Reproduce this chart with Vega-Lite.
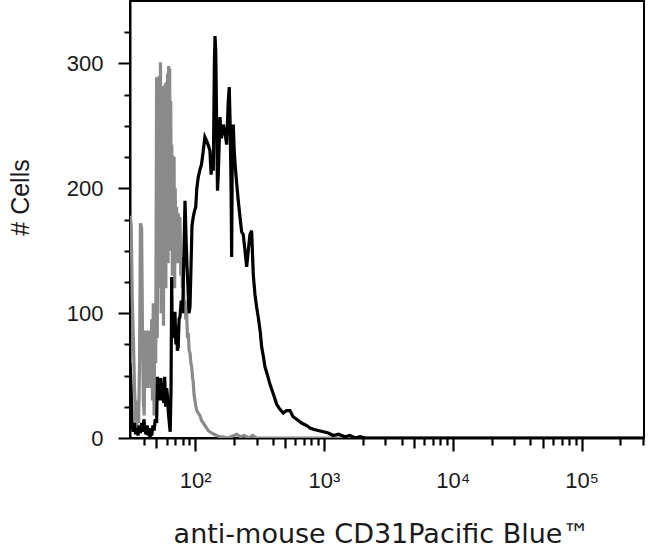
{
  "$schema": "https://vega.github.io/schema/vega-lite/v6.json",
  "autosize": "none",
  "width": 514,
  "height": 437,
  "padding": {"left": 130, "top": 1, "right": 6, "bottom": 116},
  "background": "white",
  "view": {"stroke": "black", "strokeWidth": 2},
  "data": {
    "values": [
      {"sample": "isotype", "intensity": 31.3, "cells": 178},
      {"sample": "isotype", "intensity": 31.9, "cells": 170},
      {"sample": "isotype", "intensity": 32.5, "cells": 110},
      {"sample": "isotype", "intensity": 33.2, "cells": 76},
      {"sample": "isotype", "intensity": 33.8, "cells": 40},
      {"sample": "isotype", "intensity": 34.5, "cells": 15},
      {"sample": "isotype", "intensity": 35.2, "cells": 7},
      {"sample": "isotype", "intensity": 35.8, "cells": 30},
      {"sample": "isotype", "intensity": 36.4, "cells": 12},
      {"sample": "isotype", "intensity": 37.0, "cells": 60},
      {"sample": "isotype", "intensity": 37.6, "cells": 172},
      {"sample": "isotype", "intensity": 38.4, "cells": 168},
      {"sample": "isotype", "intensity": 39.0, "cells": 86},
      {"sample": "isotype", "intensity": 39.6, "cells": 30},
      {"sample": "isotype", "intensity": 40.2, "cells": 18},
      {"sample": "isotype", "intensity": 40.8, "cells": 86},
      {"sample": "isotype", "intensity": 41.4, "cells": 45},
      {"sample": "isotype", "intensity": 42.0, "cells": 80},
      {"sample": "isotype", "intensity": 42.6, "cells": 40},
      {"sample": "isotype", "intensity": 43.3, "cells": 86},
      {"sample": "isotype", "intensity": 44.0, "cells": 50},
      {"sample": "isotype", "intensity": 44.6, "cells": 85},
      {"sample": "isotype", "intensity": 45.3, "cells": 40},
      {"sample": "isotype", "intensity": 46.0, "cells": 95},
      {"sample": "isotype", "intensity": 46.6, "cells": 30},
      {"sample": "isotype", "intensity": 47.3, "cells": 108},
      {"sample": "isotype", "intensity": 48.0, "cells": 18},
      {"sample": "isotype", "intensity": 48.7, "cells": 100},
      {"sample": "isotype", "intensity": 49.4, "cells": 60},
      {"sample": "isotype", "intensity": 50.2, "cells": 289},
      {"sample": "isotype", "intensity": 50.8, "cells": 80},
      {"sample": "isotype", "intensity": 51.4, "cells": 285},
      {"sample": "isotype", "intensity": 52.0, "cells": 120},
      {"sample": "isotype", "intensity": 52.6, "cells": 290},
      {"sample": "isotype", "intensity": 53.3, "cells": 150},
      {"sample": "isotype", "intensity": 53.8, "cells": 301},
      {"sample": "isotype", "intensity": 54.4, "cells": 100},
      {"sample": "isotype", "intensity": 55.0, "cells": 280},
      {"sample": "isotype", "intensity": 55.6, "cells": 160},
      {"sample": "isotype", "intensity": 56.2, "cells": 282},
      {"sample": "isotype", "intensity": 56.8, "cells": 90},
      {"sample": "isotype", "intensity": 57.4, "cells": 280},
      {"sample": "isotype", "intensity": 58.0, "cells": 170},
      {"sample": "isotype", "intensity": 58.6, "cells": 284},
      {"sample": "isotype", "intensity": 59.2, "cells": 120},
      {"sample": "isotype", "intensity": 59.8, "cells": 285},
      {"sample": "isotype", "intensity": 60.4, "cells": 190},
      {"sample": "isotype", "intensity": 61.0, "cells": 292},
      {"sample": "isotype", "intensity": 61.6, "cells": 140},
      {"sample": "isotype", "intensity": 62.2, "cells": 298},
      {"sample": "isotype", "intensity": 62.8, "cells": 200},
      {"sample": "isotype", "intensity": 63.4, "cells": 296},
      {"sample": "isotype", "intensity": 64.0, "cells": 150},
      {"sample": "isotype", "intensity": 64.6, "cells": 270},
      {"sample": "isotype", "intensity": 65.2, "cells": 180},
      {"sample": "isotype", "intensity": 65.8, "cells": 235},
      {"sample": "isotype", "intensity": 66.5, "cells": 130},
      {"sample": "isotype", "intensity": 67.2, "cells": 226},
      {"sample": "isotype", "intensity": 67.9, "cells": 170},
      {"sample": "isotype", "intensity": 68.6, "cells": 225},
      {"sample": "isotype", "intensity": 69.3, "cells": 120},
      {"sample": "isotype", "intensity": 70.0, "cells": 200},
      {"sample": "isotype", "intensity": 70.8, "cells": 150},
      {"sample": "isotype", "intensity": 71.8, "cells": 185},
      {"sample": "isotype", "intensity": 72.8, "cells": 140},
      {"sample": "isotype", "intensity": 74.0, "cells": 180},
      {"sample": "isotype", "intensity": 75.0, "cells": 150},
      {"sample": "isotype", "intensity": 76.2, "cells": 177},
      {"sample": "isotype", "intensity": 77.3, "cells": 130},
      {"sample": "isotype", "intensity": 78.5, "cells": 145},
      {"sample": "isotype", "intensity": 79.7, "cells": 120},
      {"sample": "isotype", "intensity": 81.0, "cells": 125},
      {"sample": "isotype", "intensity": 82.2, "cells": 105},
      {"sample": "isotype", "intensity": 83.4, "cells": 110},
      {"sample": "isotype", "intensity": 84.6, "cells": 95},
      {"sample": "isotype", "intensity": 85.9, "cells": 100},
      {"sample": "isotype", "intensity": 87.2, "cells": 80},
      {"sample": "isotype", "intensity": 88.4, "cells": 84},
      {"sample": "isotype", "intensity": 89.8, "cells": 70},
      {"sample": "isotype", "intensity": 91.2, "cells": 68},
      {"sample": "isotype", "intensity": 92.6, "cells": 60},
      {"sample": "isotype", "intensity": 94.0, "cells": 57},
      {"sample": "isotype", "intensity": 95.5, "cells": 48},
      {"sample": "isotype", "intensity": 96.6, "cells": 45},
      {"sample": "isotype", "intensity": 98.0, "cells": 35},
      {"sample": "isotype", "intensity": 99.6, "cells": 30},
      {"sample": "isotype", "intensity": 101, "cells": 26},
      {"sample": "isotype", "intensity": 103, "cells": 22},
      {"sample": "isotype", "intensity": 105.7, "cells": 20},
      {"sample": "isotype", "intensity": 108.9, "cells": 18},
      {"sample": "isotype", "intensity": 112, "cells": 14},
      {"sample": "isotype", "intensity": 115.6, "cells": 12},
      {"sample": "isotype", "intensity": 119, "cells": 10},
      {"sample": "isotype", "intensity": 122.8, "cells": 8},
      {"sample": "isotype", "intensity": 126, "cells": 6},
      {"sample": "isotype", "intensity": 130, "cells": 5},
      {"sample": "isotype", "intensity": 135, "cells": 4},
      {"sample": "isotype", "intensity": 140, "cells": 3},
      {"sample": "isotype", "intensity": 147, "cells": 2},
      {"sample": "isotype", "intensity": 155, "cells": 1},
      {"sample": "isotype", "intensity": 165, "cells": 1},
      {"sample": "isotype", "intensity": 175, "cells": 0},
      {"sample": "isotype", "intensity": 190, "cells": 1},
      {"sample": "isotype", "intensity": 210, "cells": 3},
      {"sample": "isotype", "intensity": 225, "cells": 1},
      {"sample": "isotype", "intensity": 240, "cells": 2},
      {"sample": "isotype", "intensity": 260, "cells": 0},
      {"sample": "isotype", "intensity": 280, "cells": 2},
      {"sample": "isotype", "intensity": 300, "cells": 0},
      {"sample": "isotype", "intensity": 1000, "cells": 0},
      {"sample": "isotype", "intensity": 10000, "cells": 0},
      {"sample": "isotype", "intensity": 100000, "cells": 0},
      {"sample": "isotype", "intensity": 305000, "cells": 0},
      {"sample": "CD31", "intensity": 31.2, "cells": 60},
      {"sample": "CD31", "intensity": 31.8, "cells": 40},
      {"sample": "CD31", "intensity": 32.4, "cells": 10},
      {"sample": "CD31", "intensity": 33.1, "cells": 5},
      {"sample": "CD31", "intensity": 33.8, "cells": 12},
      {"sample": "CD31", "intensity": 34.5, "cells": 3},
      {"sample": "CD31", "intensity": 35.2, "cells": 8},
      {"sample": "CD31", "intensity": 36.0, "cells": 2},
      {"sample": "CD31", "intensity": 36.8, "cells": 10},
      {"sample": "CD31", "intensity": 37.6, "cells": 4},
      {"sample": "CD31", "intensity": 38.4, "cells": 12},
      {"sample": "CD31", "intensity": 39.2, "cells": 5},
      {"sample": "CD31", "intensity": 40.0, "cells": 15},
      {"sample": "CD31", "intensity": 40.8, "cells": 6},
      {"sample": "CD31", "intensity": 41.6, "cells": 3},
      {"sample": "CD31", "intensity": 42.4, "cells": 10},
      {"sample": "CD31", "intensity": 43.3, "cells": 2},
      {"sample": "CD31", "intensity": 44.0, "cells": 8},
      {"sample": "CD31", "intensity": 44.6, "cells": 0},
      {"sample": "CD31", "intensity": 45.3, "cells": 5},
      {"sample": "CD31", "intensity": 46.0, "cells": 2},
      {"sample": "CD31", "intensity": 47.0, "cells": 10},
      {"sample": "CD31", "intensity": 48.0, "cells": 6},
      {"sample": "CD31", "intensity": 49.0, "cells": 15},
      {"sample": "CD31", "intensity": 50.2, "cells": 12},
      {"sample": "CD31", "intensity": 51.0, "cells": 49},
      {"sample": "CD31", "intensity": 51.8, "cells": 30},
      {"sample": "CD31", "intensity": 52.6, "cells": 45},
      {"sample": "CD31", "intensity": 53.3, "cells": 38},
      {"sample": "CD31", "intensity": 54.2, "cells": 48},
      {"sample": "CD31", "intensity": 55.0, "cells": 30},
      {"sample": "CD31", "intensity": 56.0, "cells": 44},
      {"sample": "CD31", "intensity": 57.0, "cells": 28},
      {"sample": "CD31", "intensity": 58.0, "cells": 49},
      {"sample": "CD31", "intensity": 59.0, "cells": 25},
      {"sample": "CD31", "intensity": 60.1, "cells": 40},
      {"sample": "CD31", "intensity": 61.0, "cells": 33},
      {"sample": "CD31", "intensity": 62.0, "cells": 20},
      {"sample": "CD31", "intensity": 63.0, "cells": 12},
      {"sample": "CD31", "intensity": 64.0, "cells": 5},
      {"sample": "CD31", "intensity": 65.0, "cells": 40},
      {"sample": "CD31", "intensity": 65.7, "cells": 129},
      {"sample": "CD31", "intensity": 66.5, "cells": 80},
      {"sample": "CD31", "intensity": 67.6, "cells": 99},
      {"sample": "CD31", "intensity": 68.6, "cells": 85},
      {"sample": "CD31", "intensity": 69.7, "cells": 101},
      {"sample": "CD31", "intensity": 70.8, "cells": 75},
      {"sample": "CD31", "intensity": 71.8, "cells": 90},
      {"sample": "CD31", "intensity": 72.8, "cells": 70},
      {"sample": "CD31", "intensity": 73.9, "cells": 73},
      {"sample": "CD31", "intensity": 75.0, "cells": 95},
      {"sample": "CD31", "intensity": 76.2, "cells": 97},
      {"sample": "CD31", "intensity": 78.0, "cells": 110},
      {"sample": "CD31", "intensity": 80.0, "cells": 100},
      {"sample": "CD31", "intensity": 81.5, "cells": 140},
      {"sample": "CD31", "intensity": 83.4, "cells": 190},
      {"sample": "CD31", "intensity": 85.0, "cells": 160},
      {"sample": "CD31", "intensity": 86.5, "cells": 137},
      {"sample": "CD31", "intensity": 88.0, "cells": 120},
      {"sample": "CD31", "intensity": 89.5, "cells": 100},
      {"sample": "CD31", "intensity": 91.2, "cells": 105},
      {"sample": "CD31", "intensity": 93.0, "cells": 140},
      {"sample": "CD31", "intensity": 94.5, "cells": 170},
      {"sample": "CD31", "intensity": 96.6, "cells": 177},
      {"sample": "CD31", "intensity": 99.0, "cells": 182},
      {"sample": "CD31", "intensity": 101, "cells": 185},
      {"sample": "CD31", "intensity": 103, "cells": 200},
      {"sample": "CD31", "intensity": 105.7, "cells": 209},
      {"sample": "CD31", "intensity": 108.9, "cells": 215},
      {"sample": "CD31", "intensity": 112, "cells": 219},
      {"sample": "CD31", "intensity": 115.6, "cells": 230},
      {"sample": "CD31", "intensity": 119, "cells": 241},
      {"sample": "CD31", "intensity": 122.8, "cells": 238},
      {"sample": "CD31", "intensity": 126, "cells": 235},
      {"sample": "CD31", "intensity": 130.2, "cells": 230},
      {"sample": "CD31", "intensity": 133, "cells": 211},
      {"sample": "CD31", "intensity": 136, "cells": 227},
      {"sample": "CD31", "intensity": 138.3, "cells": 214},
      {"sample": "CD31", "intensity": 141, "cells": 300},
      {"sample": "CD31", "intensity": 142.6, "cells": 322},
      {"sample": "CD31", "intensity": 144.5, "cells": 310},
      {"sample": "CD31", "intensity": 146.9, "cells": 250},
      {"sample": "CD31", "intensity": 149, "cells": 198},
      {"sample": "CD31", "intensity": 151.1, "cells": 210},
      {"sample": "CD31", "intensity": 155.8, "cells": 257},
      {"sample": "CD31", "intensity": 160, "cells": 240},
      {"sample": "CD31", "intensity": 165.3, "cells": 251},
      {"sample": "CD31", "intensity": 170, "cells": 245},
      {"sample": "CD31", "intensity": 175.6, "cells": 235},
      {"sample": "CD31", "intensity": 180.7, "cells": 270},
      {"sample": "CD31", "intensity": 184, "cells": 281},
      {"sample": "CD31", "intensity": 187, "cells": 250},
      {"sample": "CD31", "intensity": 190, "cells": 200},
      {"sample": "CD31", "intensity": 192, "cells": 145},
      {"sample": "CD31", "intensity": 194.5, "cells": 240},
      {"sample": "CD31", "intensity": 197.6, "cells": 251},
      {"sample": "CD31", "intensity": 201, "cells": 230},
      {"sample": "CD31", "intensity": 205, "cells": 217},
      {"sample": "CD31", "intensity": 210, "cells": 204},
      {"sample": "CD31", "intensity": 216.1, "cells": 190},
      {"sample": "CD31", "intensity": 222.8, "cells": 177},
      {"sample": "CD31", "intensity": 229.6, "cells": 165},
      {"sample": "CD31", "intensity": 236.2, "cells": 163},
      {"sample": "CD31", "intensity": 243.7, "cells": 150},
      {"sample": "CD31", "intensity": 251.1, "cells": 137},
      {"sample": "CD31", "intensity": 258.3, "cells": 150},
      {"sample": "CD31", "intensity": 266.2, "cells": 163},
      {"sample": "CD31", "intensity": 274.5, "cells": 166},
      {"sample": "CD31", "intensity": 282.5, "cells": 131},
      {"sample": "CD31", "intensity": 291.2, "cells": 115},
      {"sample": "CD31", "intensity": 300, "cells": 105},
      {"sample": "CD31", "intensity": 308.7, "cells": 97},
      {"sample": "CD31", "intensity": 320, "cells": 85},
      {"sample": "CD31", "intensity": 328.3, "cells": 73},
      {"sample": "CD31", "intensity": 340, "cells": 64},
      {"sample": "CD31", "intensity": 348.3, "cells": 57},
      {"sample": "CD31", "intensity": 365, "cells": 50},
      {"sample": "CD31", "intensity": 380.8, "cells": 43},
      {"sample": "CD31", "intensity": 405, "cells": 35},
      {"sample": "CD31", "intensity": 429.4, "cells": 27},
      {"sample": "CD31", "intensity": 455, "cells": 23},
      {"sample": "CD31", "intensity": 483.2, "cells": 20},
      {"sample": "CD31", "intensity": 512, "cells": 22},
      {"sample": "CD31", "intensity": 544.5, "cells": 22},
      {"sample": "CD31", "intensity": 575, "cells": 17},
      {"sample": "CD31", "intensity": 613.7, "cells": 15},
      {"sample": "CD31", "intensity": 670, "cells": 12},
      {"sample": "CD31", "intensity": 734.2, "cells": 10},
      {"sample": "CD31", "intensity": 780, "cells": 8},
      {"sample": "CD31", "intensity": 826.6, "cells": 7},
      {"sample": "CD31", "intensity": 900, "cells": 6},
      {"sample": "CD31", "intensity": 988.4, "cells": 5},
      {"sample": "CD31", "intensity": 1080, "cells": 4},
      {"sample": "CD31", "intensity": 1181, "cells": 2},
      {"sample": "CD31", "intensity": 1300, "cells": 3},
      {"sample": "CD31", "intensity": 1450, "cells": 1},
      {"sample": "CD31", "intensity": 1592, "cells": 2},
      {"sample": "CD31", "intensity": 1750, "cells": 0},
      {"sample": "CD31", "intensity": 1905, "cells": 1},
      {"sample": "CD31", "intensity": 2100, "cells": 0},
      {"sample": "CD31", "intensity": 10000, "cells": 0},
      {"sample": "CD31", "intensity": 100000, "cells": 0},
      {"sample": "CD31", "intensity": 305000, "cells": 0}
    ]
  },
  "mark": {"type": "line", "strokeWidth": 3.2, "clip": true},
  "encoding": {
    "x": {
      "field": "intensity",
      "type": "quantitative",
      "scale": {"type": "log", "domain": [31.2, 305000], "nice": false},
      "axis": {
        "title": "anti-mouse CD31Pacific Blue™",
        "titleFont": "DejaVu Sans",
        "titleFontSize": 27,
        "titleFontWeight": "normal",
        "titleColor": "#1a1a1a",
        "titleX": 251,
        "titleY": 104,
        "titleAlign": "center",
        "titleBaseline": "alphabetic",
        "values": [40, 50, 60, 70, 80, 90, 100, 200, 300, 400, 500, 600, 700, 800, 900, 1000, 2000, 3000, 4000, 5000, 6000, 7000, 8000, 9000, 10000, 20000, 30000, 40000, 50000, 60000, 70000, 80000, 90000, 100000, 200000, 300000],
        "labelExpr": "datum.value == 100 ? '10²' : datum.value == 1000 ? '10³' : datum.value == 10000 ? '10⁴' : datum.value == 100000 ? '10⁵' : ''",
        "labelFont": "Liberation Sans",
        "labelFontSize": 22,
        "labelColor": "#1a1a1a",
        "labelPadding": 19,
        "labelOverlap": false,
        "tickSize": 13,
        "tickDash": {
          "condition": [
            {"test": "datum.value == 100 || datum.value == 1000 || datum.value == 10000 || datum.value == 100000", "value": [13, 0]},
            {"test": "datum.value == 50 || datum.value == 500 || datum.value == 5000 || datum.value == 50000", "value": [10, 30]}
          ],
          "value": [7, 30]
        },
        "tickWidth": 2.2,
        "tickColor": "black",
        "domainColor": "black",
        "domainWidth": 2,
        "grid": false
      }
    },
    "y": {
      "field": "cells",
      "type": "quantitative",
      "scale": {"domain": [0, 350], "nice": false},
      "axis": {
        "title": "# Cells",
        "titleFont": "Liberation Sans",
        "titleFontSize": 25,
        "titleFontWeight": "normal",
        "titleColor": "#1a1a1a",
        "titleAngle": -90,
        "titleX": -110,
        "titleY": 196,
        "titleAlign": "center",
        "titleBaseline": "middle",
        "values": [0, 25, 50, 75, 100, 125, 150, 175, 200, 225, 250, 275, 300, 325],
        "labelExpr": "datum.value % 100 == 0 ? datum.value : ''",
        "labelFont": "Liberation Sans",
        "labelFontSize": 22,
        "labelColor": "#1a1a1a",
        "labelPadding": 15,
        "labelOverlap": false,
        "tickSize": 12,
        "tickDash": {"condition": {"test": "datum.value % 100 == 0", "value": [12, 0]}, "value": [6, 30]},
        "tickWidth": 2,
        "tickColor": "black",
        "domainColor": "black",
        "domainWidth": 2,
        "grid": false
      }
    },
    "color": {
      "field": "sample",
      "type": "nominal",
      "scale": {"domain": ["isotype", "CD31"], "range": ["#8a8a8a", "#000000"]},
      "legend": null
    }
  }
}
